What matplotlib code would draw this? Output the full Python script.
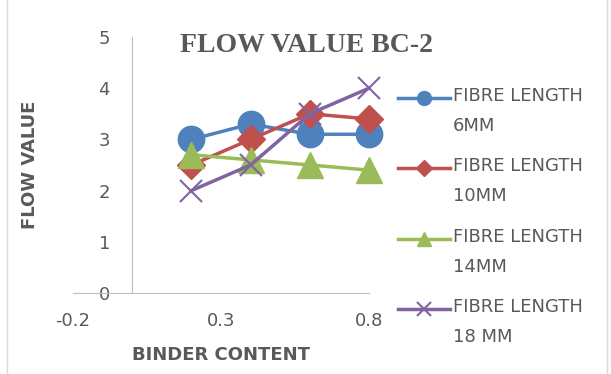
import matplotlib.pyplot as plt
from matplotlib.patches import Rectangle
from matplotlib.lines import Line2D

binder = [0.2, 0.4, 0.6, 0.8]
fl_6mm = [3.0, 3.3, 3.1, 3.1]
fl_10mm = [2.5, 3.0, 3.5, 3.4]
fl_14mm = [2.7, 2.6, 2.5, 2.4]
fl_18mm = [2.0, 2.5, 3.5, 4.0]
labels = ["FIBRE LENGTH\n6MM", "FIBRE LENGTH\n10MM", "FIBRE LENGTH\n14MM", "FIBRE LENGTH\n18 MM"]
xticks = [-0.2, 0.3, 0.8]
yticks = [0, 1, 2, 3, 4, 5]

TXT = "#595959"
AXC = "#BFBFBF"
W, H = 611, 374

fig = plt.figure(figsize=(6.11, 3.74), dpi=100)
ax = fig.add_axes([73 / W, 81 / H, 296 / W, 256 / H])

series = [
    (fl_6mm, "#4F81BD", "o", 19, 1.0, 10),
    (fl_10mm, "#C0504D", "D", 14, 1.0, 8),
    (fl_14mm, "#9BBB59", "^", 19, 1.0, 10),
    (fl_18mm, "#8064A2", "x", 16, 1.5, 10),
]
for (vals, col, mk, ms, mew, _), lab in zip(series, labels):
    ax.plot(binder, vals, color=col, marker=mk, markersize=ms, linewidth=2.5,
            markeredgewidth=mew, label=lab, clip_on=False)

ax.set_xlim(-0.2, 0.8)
ax.set_ylim(0, 5)
ax.set_xticks(xticks)
ax.set_xticklabels(["-0.2", "0.3", "0.8"])
ax.set_yticks(yticks)
for s in ["top", "right"]:
    ax.spines[s].set_visible(False)
ax.spines["left"].set_position(("data", 0))
ax.spines["left"].set_color(AXC)
ax.spines["bottom"].set_color(AXC)
ax.spines["left"].set_zorder(0)
ax.tick_params(axis="y", length=0, pad=16, labelsize=13, labelcolor=TXT)
ax.tick_params(axis="x", length=0, pad=14, labelsize=13, labelcolor=TXT)

fig.text(307 / W, 1 - 45 / H, "FLOW VALUE BC-2", ha="center", va="center",
         fontsize=20, fontweight="bold", family="Liberation Serif", color=TXT)
fig.text(30 / W, 1 - 165 / H, "FLOW VALUE", rotation=90, ha="center",
         va="center", fontsize=13, fontweight="bold", color=TXT)
fig.text(221 / W, 1 - 355 / H, "BINDER CONTENT", ha="center", va="center",
         fontsize=13, fontweight="bold", color=TXT)

# legend drawn by hand so the marker sits on the first text line
for i, ((vals, col, mk, ms, mew, lms), lab) in enumerate(zip(series, labels)):
    yc = 98 + 70.3 * i
    y = 1 - yc / H
    fig.add_artist(Line2D([398 / W, 450 / W], [y, y], color=col, linewidth=2.5,
                          transform=fig.transFigure))
    fig.add_artist(Line2D([424 / W], [y], color=col, marker=mk, markersize=lms,
                          markeredgewidth=mew, transform=fig.transFigure))
    fig.text(453 / W, 1 - (yc - 11) / H, lab, ha="left", va="top", fontsize=13,
             color=TXT, linespacing=1.85, transform=fig.transFigure)

fig.patches.append(Rectangle((7 / W, -0.01), 600 / W, 1.02, transform=fig.transFigure,
                             fill=False, edgecolor="#D9D9D9", linewidth=1))

fig.savefig("out.png", dpi=100)
